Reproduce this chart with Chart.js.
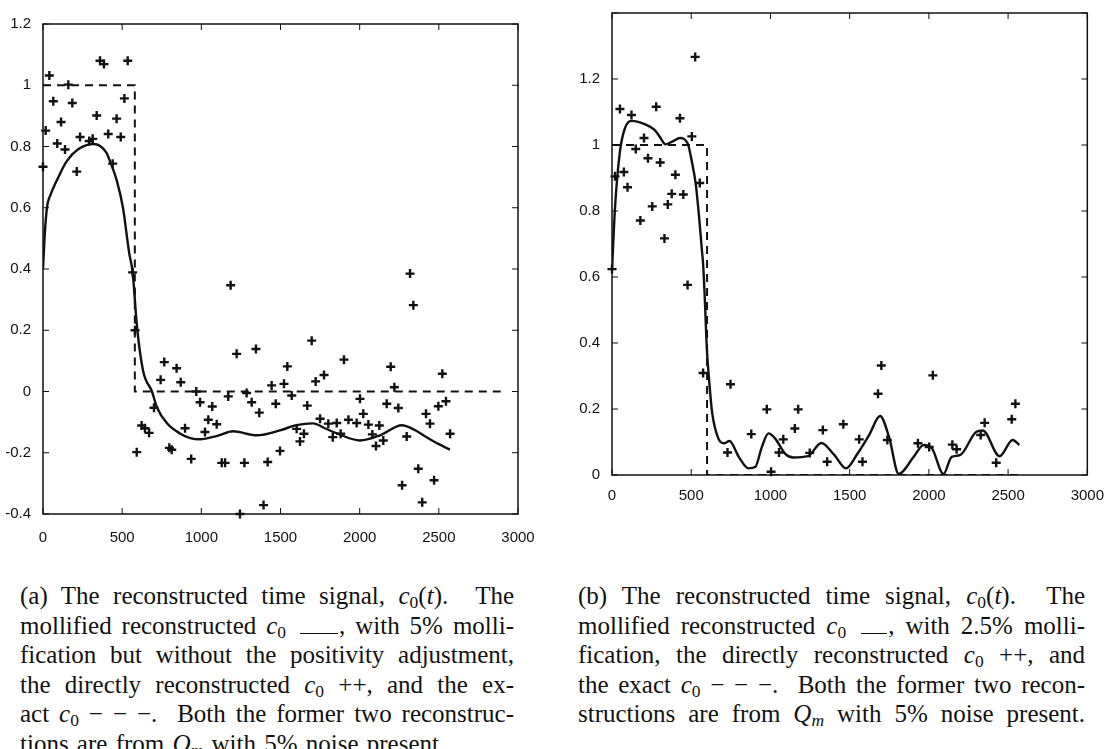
<!DOCTYPE html>
<html>
<head>
<meta charset="utf-8">
<script src="https://cdn.jsdelivr.net/npm/chart.js@4.4.0/dist/chart.umd.min.js"></script>
<style>
    body { margin: 0; background: #fff; width: 1108px; height: 749px; overflow: hidden; position: relative; }
    canvas { position: absolute; }
    #chartA { left: 0; top: 0; }
    #chartB { left: 560px; top: 0; }
    .caption { position: absolute; font-family: 'Liberation Serif', 'Times New Roman', serif; font-size: 25px; color: #111; }
    .caption div { height: 29.5px; line-height: 29.5px; text-align: justify; text-align-last: justify; }
    .caption div.last { text-align: left; text-align-last: left; word-spacing: 2px; }
    .caption sub { font-size: 0.7em; vertical-align: -0.25em; line-height: 0; }
    .rule { display: inline-block; border-bottom: 1.5px solid #111; height: 0; margin: 0 1px 0 4px; }
</style>
</head>
<body>
<canvas id="chartA" width="560" height="560"></canvas>
<canvas id="chartB" width="548" height="515"></canvas>

<div class="caption" style="left:20px; top:581px; width:494px">
    <div>(a) The reconstructed time signal, <i>c</i><sub>0</sub>(<i>t</i>). &nbsp;The</div>
    <div>mollified reconstructed <i>c</i><sub>0</sub> <span class="rule" style="width:38px"></span>, with 5% molli-</div>
    <div>fication but without the positivity adjustment,</div>
    <div>the directly reconstructed <i>c</i><sub>0</sub> ++, and the ex-</div>
    <div>act <i>c</i><sub>0</sub> &minus; &minus; &minus;. &nbsp;Both the former two reconstruc-</div>
    <div class="last">tions are from <i>Q<sub>m</sub></i> with 5% noise present.</div>
</div>

<div class="caption" style="left:578px; top:581px; width:507px">
    <div>(b) The reconstructed time signal, <i>c</i><sub>0</sub>(<i>t</i>). &nbsp;The</div>
    <div>mollified reconstructed <i>c</i><sub>0</sub> <span class="rule" style="width:26px"></span>, with 2.5% molli-</div>
    <div>fication, the directly reconstructed <i>c</i><sub>0</sub> ++, and</div>
    <div>the exact <i>c</i><sub>0</sub> &minus; &minus; &minus;. &nbsp;Both the former two recon-</div>
    <div>structions are from <i>Q<sub>m</sub></i> with 5% noise present.</div>
</div>

<script>
// --- (a) 5% mollificação, sem ajuste de positividade ---
const aDotsX = [0, 17, 40, 65, 90, 114, 139, 160, 185, 213, 234, 292, 314, 339, 360, 385, 412, 440, 465, 491, 514, 535,
    566, 581, 592, 623, 644, 670, 701, 743, 766, 798, 813, 844, 870, 897, 936, 968, 992, 1023, 1044, 1069, 1097,
    1129, 1150, 1170, 1185, 1223, 1244, 1272, 1286, 1318, 1345, 1366, 1393, 1419, 1444, 1470, 1497, 1522, 1543,
    1571, 1602, 1623, 1648, 1669, 1697, 1722, 1750, 1775, 1802, 1830, 1855, 1880, 1901, 1929, 1981, 2002, 2023,
    2055, 2080, 2103, 2124, 2149, 2171, 2196, 2219, 2244, 2268, 2297, 2318, 2339, 2370, 2395, 2419, 2444, 2470,
    2497, 2522, 2545, 2571];
const aDotsY = [0.734, 0.852, 1.032, 0.948, 0.810, 0.880, 0.790, 1.002, 0.942, 0.718, 0.831, 0.818, 0.825, 0.901, 1.080, 1.069, 0.841, 0.744, 0.891, 0.831, 0.957, 1.080,
    0.389, 0.200, -0.198, -0.111, -0.120, -0.135, -0.053, 0.038, 0.096, -0.184, -0.190, 0.076, 0.030, -0.120, -0.220, 0.000, -0.035, -0.132, -0.092, -0.049, -0.107,
    -0.233, -0.233, -0.016, 0.347, 0.123, -0.400, -0.233, -0.005, -0.035, 0.139, -0.069, -0.371, -0.230, 0.020, -0.040, -0.194, 0.025, 0.082,
    -0.013, -0.122, -0.163, -0.138, -0.046, 0.166, 0.033, -0.089, 0.054, -0.105, -0.149, -0.103, -0.138, 0.104, -0.092, -0.103, -0.024, -0.073,
    -0.108, -0.140, -0.178, -0.111, -0.160, -0.040, 0.081, 0.014, -0.054, -0.306, -0.147, 0.385, 0.282, -0.252, -0.362, -0.073, -0.105, -0.290,
    -0.048, 0.058, -0.032, -0.138];
const aSmoothX = [0, 12, 25, 50, 88, 150, 220, 320, 400, 423, 467, 505, 545, 566, 594, 632, 688, 720, 783, 865, 930, 992, 1100, 1200,
    1351, 1497, 1600, 1705, 1780, 1857, 2002, 2128, 2267, 2345, 2425, 2500, 2570];
const aSmoothY = [0.40, 0.52, 0.60, 0.645, 0.69, 0.752, 0.79, 0.808, 0.78, 0.752, 0.687, 0.60, 0.45, 0.39, 0.21, 0.068, 0.0, -0.052, -0.104, -0.137, -0.152, -0.156, -0.145, -0.13,
    -0.143, -0.127, -0.11, -0.104, -0.12, -0.137, -0.16, -0.143, -0.11, -0.125, -0.15, -0.172, -0.19];
const aExactX = [0, 580, 580, 2900];
const aExactY = [1, 1, 0, 0];
const aTicksY = [-0.4, 1.2];

// --- (b) 2.5% mollificação ---
const bDotsX = [0, 19, 50, 75, 98, 123, 150, 179, 202, 227, 254, 279, 304, 331, 352, 377, 400, 429, 450, 477, 504, 525, 554,
    575, 729, 748, 879, 977, 1004, 1054, 1081, 1154, 1175, 1248, 1331, 1358, 1460, 1560, 1581, 1679, 1700, 1738,
    1931, 2002, 2025, 2148, 2175, 2327, 2352, 2425, 2523, 2546];
const bDotsY = [0.624, 0.905, 1.109, 0.918, 0.872, 1.091, 0.988, 0.771, 1.021, 0.960, 0.814, 1.116, 0.947, 0.717, 0.820, 0.852, 0.910, 1.081, 0.850, 0.576, 1.026, 1.267, 0.885,
    0.309, 0.068, 0.275, 0.124, 0.199, 0.010, 0.068, 0.108, 0.141, 0.199, 0.067, 0.136, 0.040, 0.154, 0.108, 0.040, 0.246, 0.332, 0.106,
    0.096, 0.085, 0.302, 0.092, 0.078, 0.121, 0.158, 0.037, 0.169, 0.216];
const bSmoothX = [0, 19, 50, 81, 123, 217, 269, 300, 338, 383, 429, 477, 504, 529, 550, 567, 575, 588, 598, 613, 633, 671, 706, 742,
    800, 862, 904, 946, 987, 1029, 1092, 1144, 1237, 1321, 1404, 1477, 1550, 1623, 1692, 1748, 1810, 1904, 1967, 2019,
    2092, 2144, 2196, 2300, 2340, 2446, 2529, 2571];
const bSmoothY = [0.62, 0.81, 0.98, 1.05, 1.073, 1.061, 1.046, 1.026, 1.002, 1.011, 1.021, 1.005, 0.95, 0.88, 0.78, 0.684, 0.64, 0.508, 0.387, 0.287, 0.186, 0.111, 0.096, 0.103,
    0.055, 0.02, 0.024, 0.085, 0.126, 0.111, 0.065, 0.053, 0.057, 0.097, 0.06, 0.02, 0.065, 0.121, 0.179, 0.116, 0.003, 0.055, 0.091, 0.081,
    0.003, 0.055, 0.06, 0.131, 0.135, 0.057, 0.106, 0.091];
const bExactX = [0, 600, 600, 2560];
const bExactY = [1, 1, 0, 0];
const bTicksY = [0, 1.4];

const xTicks = [0, 3000, 500]; // min, max, passo
const INK = '#111';
const TICK_FONT = { family: "'Liberation Sans', Arial, sans-serif", size: 15 };

const toPoints = (xs, ys) => xs.map((x, i) => ({ x: x, y: ys[i] }));

// Moldura com marcas de escala para dentro (estilo MATLAB)
const boxTicks = {
    id: 'boxTicks',
    afterDraw(chart) {
        const { ctx, chartArea: a, scales } = chart;
        const len = 6;
        ctx.save();
        ctx.strokeStyle = INK;
        ctx.lineWidth = 1;
        ctx.beginPath();
        scales.x.ticks.forEach(t => {
            const px = scales.x.getPixelForValue(t.value);
            ctx.moveTo(px, a.bottom); ctx.lineTo(px, a.bottom - len);
            ctx.moveTo(px, a.top); ctx.lineTo(px, a.top + len);
        });
        scales.y.ticks.forEach(t => {
            const py = scales.y.getPixelForValue(t.value);
            ctx.moveTo(a.left, py); ctx.lineTo(a.left + len, py);
            ctx.moveTo(a.right, py); ctx.lineTo(a.right - len, py);
        });
        ctx.stroke();
        ctx.lineWidth = 1.5;
        ctx.strokeRect(a.left, a.top, a.right - a.left, a.bottom - a.top);
        ctx.restore();
    }
};

function drawPanel(id, p) {
    const ctx = document.getElementById(id).getContext('2d');
    new Chart(ctx, {
        type: 'scatter',
        data: {
            datasets: [
                {
                    data: toPoints(p.smoothX, p.smoothY),
                    showLine: true,
                    borderColor: INK,
                    borderWidth: 2.4,
                    pointRadius: 0,
                    cubicInterpolationMode: 'monotone'
                },
                {
                    data: toPoints(p.exactX, p.exactY),
                    showLine: true,
                    borderColor: INK,
                    borderWidth: 2,
                    borderDash: [8, 6],
                    pointRadius: 0
                },
                {
                    data: toPoints(p.dotsX, p.dotsY),
                    pointStyle: 'cross',
                    pointRadius: 4.5,
                    borderColor: INK,
                    borderWidth: 2.4,
                    clip: 8
                }
            ]
        },
        options: {
            responsive: false,
            animation: false,
            layout: { padding: p.padding },
            plugins: { legend: { display: false }, tooltip: { enabled: false } },
            scales: {
                x: {
                    type: 'linear',
                    min: xTicks[0],
                    max: xTicks[1],
                    afterFit: s => { s.height = p.xAxisH; },
                    grid: { display: false },
                    border: { display: false },
                    ticks: {
                        stepSize: xTicks[2],
                        padding: p.xPad,
                        maxRotation: 0,
                        color: INK,
                        font: TICK_FONT,
                        callback: v => String(v)
                    }
                },
                y: {
                    min: p.ticksY[0],
                    max: p.ticksY[1],
                    afterFit: s => { s.width = p.yAxisW; },
                    grid: { display: false },
                    border: { display: false },
                    ticks: {
                        stepSize: 0.2,
                        padding: 4,
                        color: INK,
                        font: TICK_FONT,
                        callback: v => (p.hideTop && Math.abs(v - p.ticksY[1]) < 1e-6) ? '' : String(Number(v.toFixed(1)))
                    }
                }
            }
        },
        plugins: [boxTicks]
    });
}

drawPanel('chartA', {
    dotsX: aDotsX, dotsY: aDotsY,
    smoothX: aSmoothX, smoothY: aSmoothY,
    exactX: aExactX, exactY: aExactY,
    ticksY: aTicksY, hideTop: false,
    padding: { left: 0, top: 24, right: 42, bottom: 0 },
    yAxisW: 43, xAxisH: 46, xPad: 7
});

drawPanel('chartB', {
    dotsX: bDotsX, dotsY: bDotsY,
    smoothX: bSmoothX, smoothY: bSmoothY,
    exactX: bExactX, exactY: bExactY,
    ticksY: bTicksY, hideTop: true,
    padding: { left: 0, top: 10, right: 16, bottom: 0 },
    yAxisW: 52, xAxisH: 40, xPad: 4
});
</script>
</body>
</html>
